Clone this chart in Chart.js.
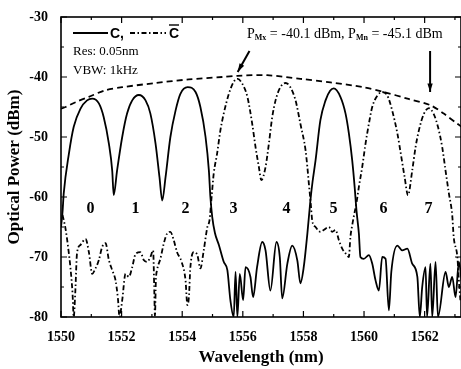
<!DOCTYPE html>
<html lang="en">
<head>
<meta charset="UTF-8">
<title>Optical spectrum</title>
<style>
  body { margin: 0; background: #fff; }
  canvas { display: block; }
</style>
</head>
<body>
<canvas id="myChart" width="461" height="369"></canvas>
<script src="https://cdn.jsdelivr.net/npm/chart.js"></script>
<script>
// solid trace, C
const cWl = [1550.00, 1550.05, 1550.09, 1550.26, 1550.42, 1550.64, 1550.86, 1551.03, 1551.25, 1551.41,
  1551.58, 1551.69, 1551.74, 1551.85, 1552.02, 1552.18, 1552.35, 1552.57, 1552.79, 1552.95,
  1553.12, 1553.25, 1553.34, 1553.45, 1553.61, 1553.78, 1553.94, 1554.18, 1554.44, 1554.60,
  1554.77, 1554.88, 1554.93, 1554.99, 1555.08, 1555.21, 1555.37, 1555.49, 1555.59, 1555.70,
  1555.76, 1555.82, 1555.90, 1556.01, 1556.09, 1556.25, 1556.34, 1556.47, 1556.64, 1556.75,
  1556.91, 1557.11, 1557.22, 1557.30, 1557.47, 1557.63, 1557.80, 1557.90, 1558.01, 1558.13,
  1558.23, 1558.30, 1558.40, 1558.56, 1558.73, 1558.88, 1559.00, 1559.22, 1559.39, 1559.50,
  1559.61, 1559.69, 1559.75, 1559.83, 1559.88, 1559.99, 1560.16, 1560.27, 1560.38, 1560.49,
  1560.60, 1560.71, 1560.82, 1560.90, 1561.10, 1561.26, 1561.43, 1561.59, 1561.76, 1561.84,
  1561.92, 1562.03, 1562.08, 1562.19, 1562.25, 1562.36, 1562.44, 1562.69, 1562.80, 1562.91,
  1563.02, 1563.13, 1563.22];
const cPow = [-65, -62.5, -59.4, -52.8, -48.3, -45.3, -43.9, -43.6, -44.4, -46.7,
  -51.1, -55.6, -59.7, -55.6, -50, -46.1, -43.9, -43.0, -43.9, -46.1,
  -51.1, -56.7, -60.6, -56.7, -50, -45.6, -42.8, -41.7, -42.5, -45,
  -50, -55.6, -60, -63.3, -66, -68, -70.8, -72.2, -77.2, -80,
  -72.5, -80, -72.8, -77.2, -71.7, -73.3, -76.7, -71.7, -67.5, -68.9,
  -75.6, -67.5, -70, -76.9, -71.1, -68.1, -70.6, -74.4, -71.7, -66.1,
  -60.6, -57.5, -53.9, -47.2, -43.9, -42.3, -41.9, -43.3, -46.1, -49.4,
  -53.9, -58.3, -62.2, -66.1, -70, -70.3, -69.7, -71.1, -73.9, -75.6,
  -70, -70.3, -78.9, -72.5, -68.1, -68.9, -68.6, -71.1, -73.3, -80,
  -75, -71.7, -80, -71.1, -80, -70.8, -80, -72.5, -75, -73.3,
  -76.7, -70.8, -74];

// dash-dot trace, C-bar
const cbWl = [1550.05, 1550.15, 1550.25, 1550.31, 1550.38, 1550.42, 1550.47, 1550.53, 1550.64, 1550.81,
  1550.92, 1551.03, 1551.14, 1551.25, 1551.36, 1551.47, 1551.58, 1551.69, 1551.80, 1551.88,
  1551.93, 1552.02, 1552.13, 1552.24, 1552.35, 1552.46, 1552.62, 1552.73, 1552.84, 1552.95,
  1553.04, 1553.08, 1553.10, 1553.13, 1553.17, 1553.28, 1553.39, 1553.50, 1553.61, 1553.72,
  1553.83, 1553.98, 1554.11, 1554.17, 1554.22, 1554.27, 1554.38, 1554.50, 1554.60, 1554.71,
  1554.83, 1554.90, 1554.97, 1555.04, 1555.15, 1555.26, 1555.37, 1555.54, 1555.70, 1555.83,
  1555.98, 1556.15, 1556.31, 1556.42, 1556.53, 1556.61, 1556.75, 1556.86, 1556.97, 1557.08,
  1557.24, 1557.41, 1557.57, 1557.74, 1557.90, 1558.07, 1558.13, 1558.18, 1558.24, 1558.29,
  1558.40, 1558.56, 1558.67, 1558.84, 1558.95, 1559.06, 1559.17, 1559.28, 1559.39, 1559.50,
  1559.55, 1559.61, 1559.66, 1559.75, 1559.83, 1559.94, 1560.05, 1560.16, 1560.27, 1560.44,
  1560.60, 1560.77, 1560.93, 1561.10, 1561.23, 1561.34, 1561.45, 1561.59, 1561.70, 1561.81,
  1561.97, 1562.14, 1562.30, 1562.44, 1562.58, 1562.69, 1562.80, 1562.91, 1562.96, 1563.08,
  1563.13, 1563.18];
const cbPow = [-63, -65.3, -69, -71.7, -76, -80, -76, -69.3, -68, -67,
  -69.2, -72.8, -71.9, -70.5, -68.3, -67.7, -70.5, -72.2, -73.9, -77,
  -80, -77.2, -72.8, -73.3, -71.7, -69.5, -69.2, -70.5, -70.8, -70,
  -68.9, -76, -80, -74, -72.2, -70.3, -67.8, -66.1, -65.8, -67.2,
  -69.2, -70.8, -73.9, -78, -76.7, -71.7, -69.2, -69.7, -71.9, -68.9,
  -65, -63.9, -60, -56.1, -52.8, -48.9, -46.1, -42.8, -40.8, -40.3,
  -41.1, -43.3, -47.8, -51.7, -55, -57.2, -55, -51.1, -46.7, -43.9,
  -41.7, -41.0, -41.7, -43.9, -47.8, -52.2, -55, -57.8, -61, -63.9,
  -65, -65.8, -65.5, -65, -65.8, -65.5, -67.2, -68.6, -69.4, -70,
  -66.7, -64.7, -63.3, -61, -58.3, -55, -51.1, -47.8, -45, -43.1,
  -42.5, -43.1, -45.6, -49.4, -53.3, -56.7, -59.7, -55.6, -51.7, -48.9,
  -46.2, -45.2, -46.2, -48.3, -51.7, -55.6, -59.4, -63, -66.7, -70,
  -73.9, -77.2];

// dashed envelope over the peaks
const envWl = [1550.00, 1550.15, 1550.48, 1550.92, 1551.47, 1552.02, 1553.12, 1554.22, 1555.32, 1555.82,
  1556.80, 1557.90, 1558.89, 1559.99, 1560.65, 1561.43, 1562.19, 1562.63, 1563.08, 1563.22];
const envPow = [-45.3, -45, -44.2, -43.3, -42.2, -41.7, -41, -40.4, -40, -39.8,
  -39.7, -40.3, -40.9, -41.7, -42.5, -43.6, -44.7, -46.1, -47.8, -48.3];

// channel numbers
const chanNames = ['0', '1', '2', '3', '4', '5', '6', '7'];
const chanWl = [1550.97, 1552.46, 1554.11, 1555.69, 1557.44, 1558.99, 1560.64, 1562.13];
const chanPow = -62;

const xTicks = [1550, 1552, 1554, 1556, 1558, 1560, 1562];
const yTicks = [-80, -70, -60, -50, -40, -30];

const pts = (xs, ys) => xs.map((v, i) => ({ x: v, y: ys[i] }));
const serif = 'Liberation Serif, Times New Roman, serif';

const deco = {
  id: 'deco',
  afterDatasetsDraw(chart) {
    const { ctx, chartArea: a, scales: { x, y } } = chart;
    ctx.save();
    ctx.strokeStyle = '#000';
    ctx.fillStyle = '#000';
    ctx.setLineDash([]);

    // frame
    ctx.lineWidth = 1.6;
    ctx.strokeRect(a.left, a.top, a.right - a.left, a.bottom - a.top);

    // inward ticks, all four sides
    ctx.lineWidth = 1.2;
    ctx.beginPath();
    for (let v = 1550; v <= 1563; v++) {
      const px = x.getPixelForValue(v);
      const len = v % 2 === 0 ? 6 : 3;
      ctx.moveTo(px, a.bottom); ctx.lineTo(px, a.bottom - len);
      ctx.moveTo(px, a.top); ctx.lineTo(px, a.top + len);
    }
    for (let v = -80; v <= -30; v += 5) {
      const py = y.getPixelForValue(v);
      const len = v % 10 === 0 ? 6 : 3;
      ctx.moveTo(a.left, py); ctx.lineTo(a.left + len, py);
      ctx.moveTo(a.right, py); ctx.lineTo(a.right - len, py);
    }
    ctx.stroke();

    // channel numbers
    ctx.font = 'bold 16px ' + serif;
    ctx.textAlign = 'center';
    ctx.textBaseline = 'middle';
    chanNames.forEach((n, i) => {
      ctx.fillText(n, x.getPixelForValue(chanWl[i]), y.getPixelForValue(chanPow));
    });

    // legend
    const lx = a.left + 12, ly = a.top + 16;
    ctx.lineWidth = 1.8;
    ctx.beginPath(); ctx.moveTo(lx, ly); ctx.lineTo(lx + 35, ly); ctx.stroke();
    ctx.font = 'bold 14px Liberation Sans, Arial, sans-serif';
    ctx.textAlign = 'left';
    ctx.fillText('C,', lx + 37, ly + 1);
    ctx.setLineDash([5, 2.5, 1.5, 2.5]);
    ctx.beginPath(); ctx.moveTo(lx + 57, ly); ctx.lineTo(lx + 93, ly); ctx.stroke();
    ctx.setLineDash([]);
    ctx.fillText('C', lx + 96, ly + 1);
    ctx.lineWidth = 1.4;
    ctx.beginPath(); ctx.moveTo(lx + 96, ly - 8); ctx.lineTo(lx + 106, ly - 8); ctx.stroke();

    ctx.font = '13px ' + serif;
    ctx.fillText('Res: 0.05nm', lx, ly + 19);
    ctx.fillText('VBW: 1kHz', lx, ly + 38);

    // P annotation
    let tx = 247;
    const ty = 34;
    const part = (t, f, dy) => { ctx.font = f; ctx.fillText(t, tx, ty + dy); tx += ctx.measureText(t).width; };
    const big = '14px ' + serif, small = 'bold 8px ' + serif;
    part('P', big, 0); part('Mx', small, 4); part(' = -40.1 dBm, P', big, 0);
    part('Mn', small, 4); part(' = -45.1 dBm', big, 0);

    // arrows
    const arrow = (x1, y1, x2, y2) => {
      ctx.lineWidth = 2;
      ctx.beginPath(); ctx.moveTo(x1, y1); ctx.lineTo(x2, y2); ctx.stroke();
      const ang = Math.atan2(y2 - y1, x2 - x1), h = 9;
      ctx.beginPath();
      ctx.moveTo(x2, y2);
      ctx.lineTo(x2 - h * Math.cos(ang - 0.3), y2 - h * Math.sin(ang - 0.3));
      ctx.lineTo(x2 - h * Math.cos(ang + 0.3), y2 - h * Math.sin(ang + 0.3));
      ctx.closePath(); ctx.fill();
    };
    arrow(x.getPixelForValue(1556.22), 51, x.getPixelForValue(1555.83), 72);
    arrow(x.getPixelForValue(1562.18), 51, x.getPixelForValue(1562.18), 92);
    ctx.restore();
  }
};

new Chart(document.getElementById('myChart'), {
  type: 'line',
  data: {
    datasets: [
      {
        label: 'C',
        data: pts(cWl, cPow),
        borderColor: '#000',
        borderWidth: 1.8,
        pointRadius: 0,
        cubicInterpolationMode: 'monotone'
      },
      {
        label: 'C-bar',
        data: pts(cbWl, cbPow),
        borderColor: '#000',
        borderWidth: 1.8,
        borderDash: [5, 2.5, 1.5, 2.5],
        pointRadius: 0,
        cubicInterpolationMode: 'monotone'
      },
      {
        label: 'envelope',
        data: pts(envWl, envPow),
        borderColor: '#000',
        borderWidth: 1.8,
        borderDash: [6, 4],
        pointRadius: 0,
        tension: 0.3
      }
    ]
  },
  options: {
    responsive: false,
    animation: false,
    layout: { padding: { top: 17, right: 0, left: 0, bottom: 0 } },
    plugins: { legend: { display: false }, tooltip: { enabled: false } },
    scales: {
      x: {
        type: 'linear',
        min: 1550,
        max: 1563.2,
        afterBuildTicks: s => { s.ticks = xTicks.map(v => ({ value: v })); },
        afterFit: s => { s.height = 52; },
        grid: { display: false },
        border: { display: false },
        ticks: {
          color: '#000', padding: 4, maxRotation: 0,
          callback: v => String(v),
          font: { family: serif, weight: 'bold', size: 14 }
        },
        title: {
          display: true,
          text: 'Wavelength (nm)',
          color: '#000',
          padding: { top: 0, bottom: 1 },
          font: { family: serif, weight: 'bold', size: 17 }
        }
      },
      y: {
        min: -80,
        max: -30,
        afterBuildTicks: s => { s.ticks = yTicks.map(v => ({ value: v })); },
        afterFit: s => { s.width = 61; },
        grid: { display: false },
        border: { display: false },
        ticks: { color: '#000', padding: 5, font: { family: serif, weight: 'bold', size: 14 } },
        title: {
          display: true,
          text: 'Optical Power (dBm)',
          color: '#000',
          padding: { top: 4, bottom: 0 },
          font: { family: serif, weight: 'bold', size: 17 }
        }
      }
    }
  },
  plugins: [deco]
});
</script>
</body>
</html>
